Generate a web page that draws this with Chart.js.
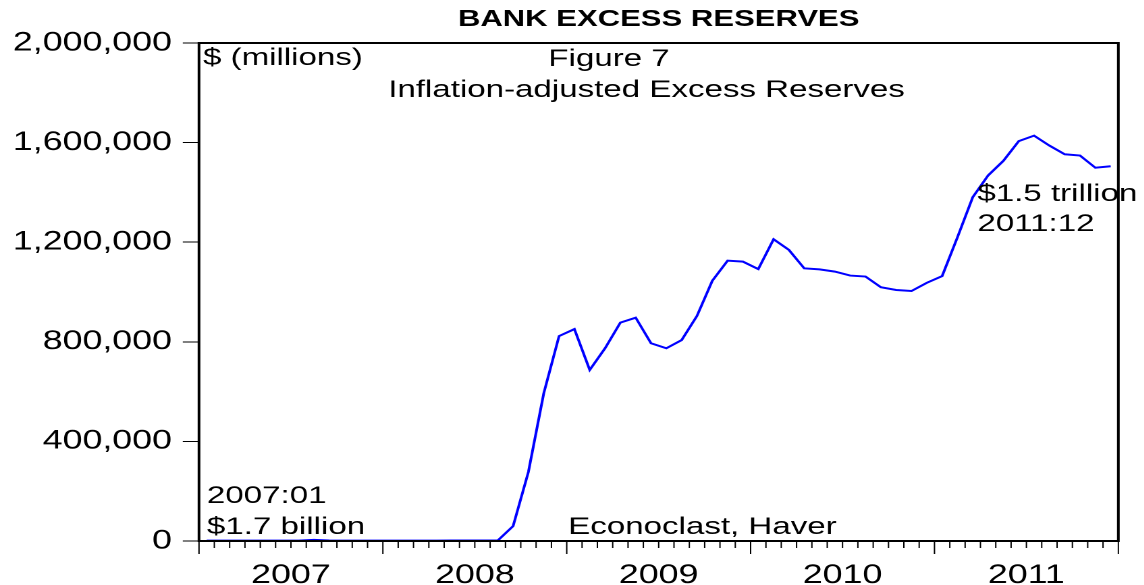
<!DOCTYPE html>
<html>
<head>
<meta charset="utf-8">
<title>Bank Excess Reserves</title>
<script src="https://cdn.jsdelivr.net/npm/chart.js@4.4.1/dist/chart.umd.min.js"></script>
<style>
  html, body { margin: 0; padding: 0; background: #fff; overflow: hidden; }
  /* the original picture is stretched sideways, so the chart is drawn narrow and widened */
  #wrap { width: 847.4px; height: 585px; transform: scaleX(1.35); transform-origin: 0 0; }
</style>
</head>
<body>
<div id="wrap"><canvas id="reserves"></canvas></div>
<script>
// monthly, 2007:01 .. 2011:12, $ millions (inflation adjusted)
const years = ['2007', '2008', '2009', '2010', '2011'];
const months = years.flatMap(y => ['01','02','03','04','05','06','07','08','09','10','11','12'].map(m => y + ':' + m));
const excessReserves = [
    1700, 1600, 1650, 1550, 1500, 1750, 1650, 4500, 1900, 1600, 1650, 1700,
    1500, 1700, 1650, 1750, 1800, 2000, 1900, 1950, 60000, 278000, 593000, 823000,
    851000, 687000, 774000, 877000, 897000, 794000, 774000, 807000, 904000, 1045000, 1126000, 1122000,
    1092000, 1212000, 1169000, 1095000, 1091000, 1082000, 1066000, 1062000, 1019000, 1008000, 1004000, 1037000,
    1064000, 1220000, 1381000, 1468000, 1527000, 1606000, 1628000, 1588000, 1553000, 1548000, 1499000, 1505000
];
const yTicks = [0, 400000, 800000, 1200000, 1600000, 2000000];

// text notes inside the plot, placed in data units (x = months from 2007:01)
const notes = [
    { text: '$ (millions)', x: 0.26, y: 1938000 },
    { text: 'Figure 7', x: 22.8, y: 1934000 },
    { text: 'Inflation-adjusted Excess Reserves', x: 12.35, y: 1810000 },
    { text: '$1.5 trillion', x: 50.8, y: 1393000 },
    { text: '2011:12', x: 50.8, y: 1272000 },
    { text: '2007:01', x: 0.52, y: 180000 },
    { text: '$1.7 billion', x: 0.52, y: 55000 },
    { text: 'Econoclast, Haver', x: 24.1, y: 55000 }
];

const FONT = '"Liberation Sans", Arial, sans-serif';

const frameAndNotes = {
    id: 'frameAndNotes',
    afterDatasetsDraw(chart) {
        const { ctx, chartArea: a, scales: { x, y } } = chart;
        ctx.save();
        ctx.strokeStyle = '#000';
        ctx.lineWidth = 1;
        // month ticks below the frame, longer at year boundaries
        for (let m = 0; m <= months.length; m++) {
            const px = x.getPixelForValue(m);
            ctx.beginPath();
            ctx.moveTo(px, a.bottom);
            ctx.lineTo(px, a.bottom + (m % 12 === 0 ? 13 : 7));
            ctx.stroke();
        }
        ctx.fillStyle = '#000';
        ctx.font = '24.5px ' + FONT;
        ctx.textAlign = 'left';
        ctx.textBaseline = 'middle';
        notes.forEach(n => ctx.fillText(n.text, x.getPixelForValue(n.x), y.getPixelForValue(n.y)));
        ctx.lineWidth = 2;
        ctx.strokeRect(a.left, a.top, a.right - a.left, a.bottom - a.top);
        ctx.restore();
    }
};

new Chart(document.getElementById('reserves'), {
    type: 'line',
    data: {
        datasets: [{
            label: 'Excess reserves',
            data: excessReserves.map((v, i) => ({ x: i + 0.5, y: v })),
            borderColor: '#0000ff',
            borderWidth: 2,
            pointRadius: 0,
            tension: 0,
            fill: false
        }]
    },
    options: {
        responsive: true,
        maintainAspectRatio: false,
        animation: false,
        devicePixelRatio: 2,
        layout: { padding: { left: 0, right: 16.3, top: 0, bottom: 0 } },
        plugins: {
            legend: { display: false },
            tooltip: { enabled: false },
            title: {
                display: true,
                fullSize: false,
                text: 'BANK EXCESS RESERVES',
                color: '#000',
                font: { family: FONT, size: 23, weight: 'bold' },
                padding: { top: 6, bottom: 9.4 }
            }
        },
        scales: {
            x: {
                type: 'linear',
                min: 0,
                max: months.length,
                afterFit: s => { s.height = 44; },
                grid: { display: false, drawTicks: false },
                border: { display: false },
                ticks: {
                    stepSize: 6,
                    autoSkip: false,
                    maxRotation: 0,
                    padding: 19,
                    color: '#000',
                    font: { family: FONT, size: 26.5 },
                    callback: v => (v % 12 === 6 ? years[(v - 6) / 12] : '')
                }
            },
            y: {
                min: 0,
                max: 2000000,
                afterFit: s => { s.width = 147.4; },
                afterBuildTicks: s => { s.ticks = yTicks.map(v => ({ value: v })); },
                grid: { drawOnChartArea: false, tickLength: 12, color: '#000', lineWidth: 1 },
                border: { display: false },
                ticks: {
                    padding: 8,
                    color: '#000',
                    font: { family: FONT, size: 26.5 },
                    callback: v => v.toLocaleString('en-US')
                }
            }
        }
    },
    plugins: [frameAndNotes]
});
</script>
</body>
</html>
